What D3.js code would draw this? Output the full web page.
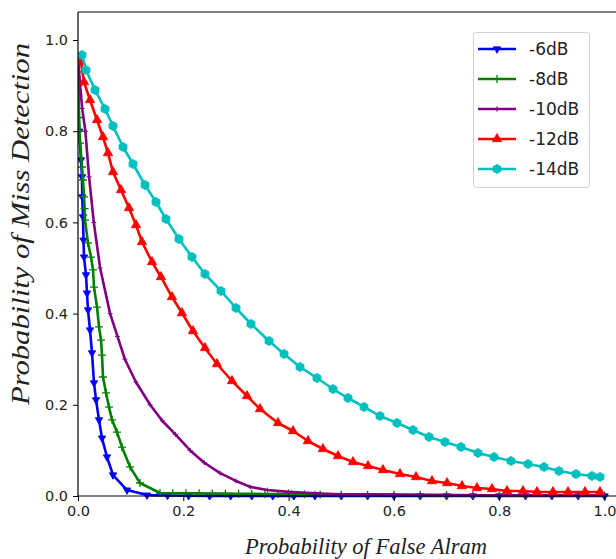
<!DOCTYPE html>
<html>
<head>
<meta charset="utf-8">
<script src="https://cdn.jsdelivr.net/npm/d3@7"></script>
<style>
  html, body { margin: 0; padding: 0; background: #fff; }
  svg { display: block; }
</style>
</head>
<body>
<div id="chart"></div>
<script>
// ---------------- data ----------------
const seriesNames = ["-6dB", "-8dB", "-10dB", "-12dB", "-14dB"];
const xTicks = [0, 0.2, 0.4, 0.6, 0.8, 1.0];
const yTicks = [0, 0.2, 0.4, 0.6, 0.8, 1.0];

// each point: [Probability of False Alarm, Probability of Miss Detection]
const pts_6dB = [
  [0.000, 0.950], [0.002, 0.800], [0.0057, 0.737], [0.0076, 0.700], [0.008, 0.656],
  [0.0095, 0.612], [0.0105, 0.561], [0.0114, 0.524], [0.0152, 0.485], [0.0171, 0.445],
  [0.019, 0.408], [0.0228, 0.364], [0.0266, 0.314], [0.0304, 0.248], [0.0342, 0.211],
  [0.0399, 0.167], [0.0456, 0.127], [0.0551, 0.0855], [0.0665, 0.046], [0.0931, 0.013],
  [0.131, 0.002], [0.17, 0.001], [0.21, 0.0005], [0.25, 0.0003], [0.29, 0.0002],
  [0.33, 0.0002], [0.37, 0.0001], [0.41, 0.0001], [0.45, 0.0001], [0.50, 0.0001],
  [0.55, 0.0001], [0.60, 0.0001], [0.65, 0.0001], [0.70, 0.0001], [0.75, 0.0001],
  [0.80, 0.0001], [0.85, 0.0001], [0.90, 0.0001], [0.95, 0.0001], [1.00, 0.0001]
];
const pts_8dB = [
  [0.000, 0.960], [0.0005, 0.930], [0.001, 0.880], [0.002, 0.830], [0.003, 0.800],
  [0.004, 0.774], [0.0076, 0.7215], [0.0095, 0.693], [0.0115, 0.656], [0.0125, 0.630],
  [0.0133, 0.605], [0.019, 0.555], [0.0247, 0.524], [0.0285, 0.496], [0.0304, 0.458],
  [0.0361, 0.414], [0.0399, 0.371], [0.0437, 0.342], [0.0456, 0.309], [0.0475, 0.261],
  [0.0532, 0.226], [0.0589, 0.195], [0.0646, 0.167], [0.0741, 0.140], [0.0836, 0.107],
  [0.0988, 0.064], [0.1178, 0.0285], [0.1557, 0.0066], [0.18, 0.006], [0.205, 0.006],
  [0.23, 0.0058], [0.255, 0.0055], [0.28, 0.0052], [0.305, 0.005], [0.33, 0.0048],
  [0.355, 0.0045], [0.38, 0.0043], [0.405, 0.004], [0.43, 0.0038], [0.46, 0.0035],
  [0.50, 0.003], [0.55, 0.003], [0.60, 0.0025], [0.65, 0.0022], [0.70, 0.002],
  [0.75, 0.0018], [0.80, 0.0015], [0.85, 0.0012], [0.90, 0.001], [0.95, 0.001], [1.00, 0.001]
];
const pts_10dB = [
  [0.001, 0.950], [0.004, 0.900], [0.008, 0.850], [0.014, 0.800], [0.021, 0.700],
  [0.030, 0.600], [0.042, 0.500], [0.061, 0.400], [0.075, 0.350], [0.089, 0.300],
  [0.110, 0.250], [0.137, 0.200], [0.160, 0.165], [0.185, 0.135], [0.213, 0.100],
  [0.240, 0.073], [0.270, 0.050], [0.300, 0.033], [0.327, 0.020], [0.360, 0.013],
  [0.400, 0.009], [0.450, 0.006], [0.500, 0.004], [0.550, 0.0035], [0.600, 0.003],
  [0.650, 0.0025], [0.700, 0.002], [0.750, 0.0018], [0.800, 0.0015], [0.850, 0.0013],
  [0.900, 0.001], [0.950, 0.001], [1.000, 0.001]
];
const pts_12dB = [
  [0.0057, 0.9518], [0.0114, 0.9079], [0.0228, 0.8684], [0.0361, 0.8246], [0.0475, 0.7873],
  [0.0570, 0.7522], [0.0665, 0.7105], [0.0817, 0.6711], [0.0969, 0.6316], [0.1102, 0.5943],
  [0.1216, 0.5570], [0.1406, 0.5132], [0.1576, 0.4803], [0.1785, 0.4364], [0.1975, 0.4013],
  [0.2184, 0.3618], [0.2412, 0.3246], [0.2640, 0.2895], [0.2925, 0.2522], [0.3210, 0.2193],
  [0.3457, 0.1908], [0.3799, 0.1601], [0.4084, 0.1425], [0.4368, 0.1206], [0.4653, 0.1031],
  [0.4938, 0.0877], [0.5223, 0.0746], [0.5508, 0.0658], [0.5793, 0.0570], [0.6116, 0.0482],
  [0.6420, 0.0417], [0.6724, 0.0329], [0.7009, 0.0285], [0.7293, 0.0219], [0.7578, 0.0175],
  [0.7863, 0.0154], [0.8148, 0.0110], [0.8452, 0.0110], [0.8718, 0.0088], [0.9022, 0.0088],
  [0.9307, 0.0088], [0.9630, 0.0088], [0.9915, 0.0088]
];
const pts_14dB = [
  [0.0076, 0.967], [0.0152, 0.9342], [0.0323, 0.8904], [0.0513, 0.8487], [0.0665, 0.8114],
  [0.0855, 0.7654], [0.1045, 0.7281], [0.1273, 0.6820], [0.1481, 0.6447], [0.1671, 0.6075],
  [0.1918, 0.5636], [0.2165, 0.5241], [0.2412, 0.4868], [0.2716, 0.4496], [0.3001, 0.4123],
  [0.3286, 0.3772], [0.3628, 0.3399], [0.3913, 0.3114], [0.4217, 0.2829], [0.4539, 0.2588],
  [0.4843, 0.2346], [0.5128, 0.2149], [0.5432, 0.1952], [0.5736, 0.1754], [0.6059, 0.1601],
  [0.6363, 0.1447], [0.6667, 0.1294], [0.6971, 0.1184], [0.7274, 0.1075], [0.7597, 0.0943],
  [0.7901, 0.0855], [0.8224, 0.0768], [0.8547, 0.0702], [0.8851, 0.0636], [0.9136, 0.0548],
  [0.9459, 0.0482], [0.9763, 0.0439], [0.9915, 0.0417]
];
const seriesData = [pts_6dB, pts_8dB, pts_10dB, pts_12dB, pts_14dB];
const seriesColors = ["#0000ff", "#008000", "#800080", "#ff0000", "#00bfbf"];
const seriesMarkers = ["tridown", "plus", "plusSmall", "triangle", "hexagon"];

(function () {
// ---------------- layout ----------------
const W = 616, H = 559;
const mLeft = 78, mTop = 12, mBottom = 496, mRight = 660;

const svg = d3.select("#chart").append("svg")
  .attr("width", W).attr("height", H);

const x = d3.scaleLinear().domain([0, 1]).range([mLeft, 604.5]);
const y = d3.scaleLinear().domain([0, 1]).range([mBottom, 40]);

svg.append("defs").append("clipPath").attr("id", "plotclip")
  .append("rect").attr("x", mLeft).attr("y", mTop)
  .attr("width", mRight - mLeft).attr("height", mBottom - mTop + 4);

function markerPath(kind) {
  if (kind === "triangle") return d3.symbol().type(d3.symbolTriangle).size(38)();
  if (kind === "tridown") return d3.symbol().type(d3.symbolTriangle).size(24)();
  if (kind === "hexagon") {
    const r = 4.6, p = [];
    for (let i = 0; i < 6; i++) {
      const a = Math.PI / 6 + i * Math.PI / 3;
      p.push([r * Math.cos(a), r * Math.sin(a)]);
    }
    return "M" + p.map(d => d.join(",")).join("L") + "Z";
  }
  if (kind === "plus") return "M-4,0L4,0M0,-4L0,4";
  if (kind === "plusSmall") return "M-2.5,0L2.5,0M0,-2.5L0,2.5";
  return "";
}

const plot = svg.append("g").attr("clip-path", "url(#plotclip)");
const line = d3.line().x(d => x(d[0])).y(d => y(d[1]));

seriesData.forEach((pts, i) => {
  const col = seriesColors[i];
  const kind = seriesMarkers[i];
  plot.append("path").datum(pts)
    .attr("d", line)
    .attr("fill", "none")
    .attr("stroke", col)
    .attr("stroke-width", 2.6)
    .attr("stroke-linejoin", "round");
  const mp = markerPath(kind);
  const isStroke = (kind === "plus" || kind === "plusSmall");
  plot.append("g").selectAll("path").data(pts).join("path")
    .attr("d", mp)
    .attr("transform", d => `translate(${x(d[0])},${y(d[1])})` + (kind === "tridown" ? " rotate(180)" : ""))
    .attr("fill", isStroke ? "none" : col)
    .attr("stroke", col)
    .attr("stroke-width", isStroke ? (kind === "plus" ? 1.3 : 1.0) : 0.8);
});

const axisColor = "#000";
const tickFont = "DejaVu Sans, sans-serif";

const xAxis = svg.append("g").attr("transform", `translate(0,${mBottom})`)
  .call(d3.axisBottom(x).tickValues(xTicks).tickFormat(d3.format(".1f")).tickSize(5).tickPadding(5));
const yAxis = svg.append("g").attr("transform", `translate(${mLeft},0)`)
  .call(d3.axisLeft(y).tickValues(yTicks).tickFormat(d3.format(".1f")).tickSize(5).tickPadding(5));
[xAxis, yAxis].forEach(a => {
  a.select(".domain").remove();
  a.selectAll("line").attr("stroke", axisColor).attr("stroke-width", 1);
  a.selectAll("text").attr("font-family", tickFont).attr("font-size", 14.5).attr("fill", "#222");
});

svg.append("line").attr("x1", mLeft).attr("x2", mLeft).attr("y1", mTop).attr("y2", mBottom)
  .attr("stroke", axisColor).attr("stroke-width", 1.2);
svg.append("line").attr("x1", mLeft).attr("x2", mRight).attr("y1", mBottom).attr("y2", mBottom)
  .attr("stroke", axisColor).attr("stroke-width", 1.2);
svg.append("line").attr("x1", mLeft).attr("x2", mRight).attr("y1", mTop).attr("y2", mTop)
  .attr("stroke", axisColor).attr("stroke-width", 1.2);

svg.append("text").attr("x", 366).attr("y", 554)
  .attr("text-anchor", "middle")
  .attr("font-family", "Liberation Serif, Times New Roman, serif")
  .attr("font-style", "italic").attr("font-size", 22.5).attr("fill", "#222")
  .attr("textLength", 242).attr("lengthAdjust", "spacingAndGlyphs")
  .text("Probability of False Alram");
svg.append("text")
  .attr("transform", "translate(29,224) rotate(-90)")
  .attr("text-anchor", "middle")
  .attr("font-family", "Liberation Serif, Times New Roman, serif")
  .attr("font-style", "italic").attr("font-size", 25).attr("fill", "#222")
  .attr("textLength", 362).attr("lengthAdjust", "spacingAndGlyphs")
  .text("Probability of Miss Detection");

const lg = svg.append("g");
lg.append("rect").attr("x", 473.5).attr("y", 32.5).attr("width", 116).attr("height", 155)
  .attr("rx", 3).attr("fill", "#fff").attr("fill-opacity", 0.8)
  .attr("stroke", "#d0d0d0").attr("stroke-width", 1);
seriesNames.forEach((name, i) => {
  const yy = 49 + 30 * i;
  lg.append("line").attr("x1", 478).attr("x2", 516).attr("y1", yy).attr("y2", yy)
    .attr("stroke", seriesColors[i]).attr("stroke-width", 2.6);
  const kind = seriesMarkers[i];
  const isStroke = (kind === "plus" || kind === "plusSmall");
  lg.append("path").attr("d", markerPath(kind))
    .attr("transform", `translate(497,${yy})` + (kind === "tridown" ? " rotate(180)" : ""))
    .attr("fill", isStroke ? "none" : seriesColors[i])
    .attr("stroke", seriesColors[i]).attr("stroke-width", isStroke ? 1.3 : 0.8);
  lg.append("text").attr("x", 529).attr("y", yy).attr("dy", "0.36em")
    .attr("font-family", tickFont).attr("font-size", 17).attr("fill", "#222")
    .text(name);
});
})();
</script>
</body>
</html>
